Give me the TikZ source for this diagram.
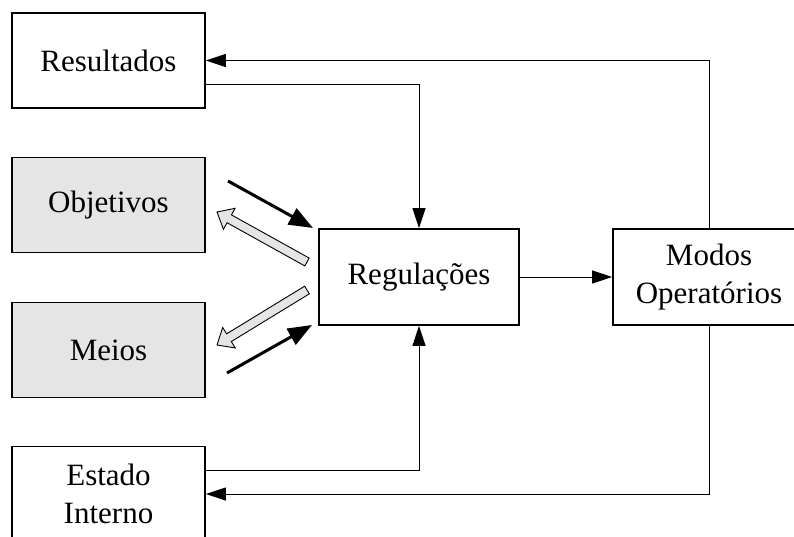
\documentclass[tikz,border=0pt]{standalone}
\usepackage{fontspec}
\setmainfont{Liberation Serif}
\usetikzlibrary{arrows.meta,calc}
\begin{document}
\begin{tikzpicture}[x=1pt,y=-1pt,
  box/.style={draw=black, line width=1.8pt, inner sep=0pt, align=center,
    minimum width=193pt, minimum height=95pt,
    font=\fontsize{31}{38}\selectfont},
  shaded/.style={box, fill=gray!20},
  conn/.style={draw=black, line width=1pt, -{Triangle[length=20pt,width=13pt]}},
  bold/.style={draw=black, line width=3pt, -{Triangle[length=24pt,width=18pt]}},
  hollow/.style={draw=black, line width=0.9pt, fill=gray!20, line join=miter}]
\useasboundingbox (0,0) rectangle (794,537);
\clip (0,0) rectangle (794,537);

% boxes
\node[box]    (res)   at (108.5,60.5) {Resultados};
\node[shaded] (obj)   at (108.5,205)  {Objetivos};
\node[shaded] (meios) at (108.5,350)  {Meios};
\node[box]    (est)   at (108.5,494)  {Estado\\Interno};
\node[box, minimum width=200pt, minimum height=96pt] (reg) at (419,277) {Regulações};
\node[box, minimum width=192pt, minimum height=96pt] (modos) at (709,277) {Modos\\Operatórios};

% feedback connectors
\draw[conn] (modos.north) |- (res.east);
\draw[conn] ([yshift=-24.5pt]res.east) -| (reg.north);
\draw[conn] (reg.east) -- (modos.west);
\draw[conn] ([yshift=24pt]est.east) -| (reg.south);
\draw[conn] (modos.south) |- (est.east);

% exchanges between Regulações and Objetivos / Meios
\coordinate (objin) at (228,181);
\coordinate (regobj) at (313,228);
\coordinate (meiosin) at (227,373);
\coordinate (regmeios) at (312,325);
\draw[bold] (objin) -- (regobj);
\draw[bold] (meiosin) -- (regmeios);

% wide outlined arrows: #1 tail, #2 tip
\newcommand\widearrow[2]{%
  \coordinate (wa-base) at ($(#2)!14pt!(#1)$);
  \draw[hollow]
    ($(#1)!4.5pt!90:(#2)$) -- ($(wa-base)!4.5pt!90:(#2)$)
    -- ($(wa-base)!12pt!90:(#2)$) -- (#2)
    -- ($(wa-base)!12pt!-90:(#2)$) -- ($(wa-base)!4.5pt!-90:(#2)$)
    -- ($(#1)!4.5pt!-90:(#2)$) -- cycle;}
\coordinate (regout1) at (307,262);
\coordinate (objout) at (217,212);
\coordinate (regout2) at (307,290);
\coordinate (meiosout) at (217,345);
\widearrow{regout1}{objout}
\widearrow{regout2}{meiosout}
\end{tikzpicture}
\end{document}
